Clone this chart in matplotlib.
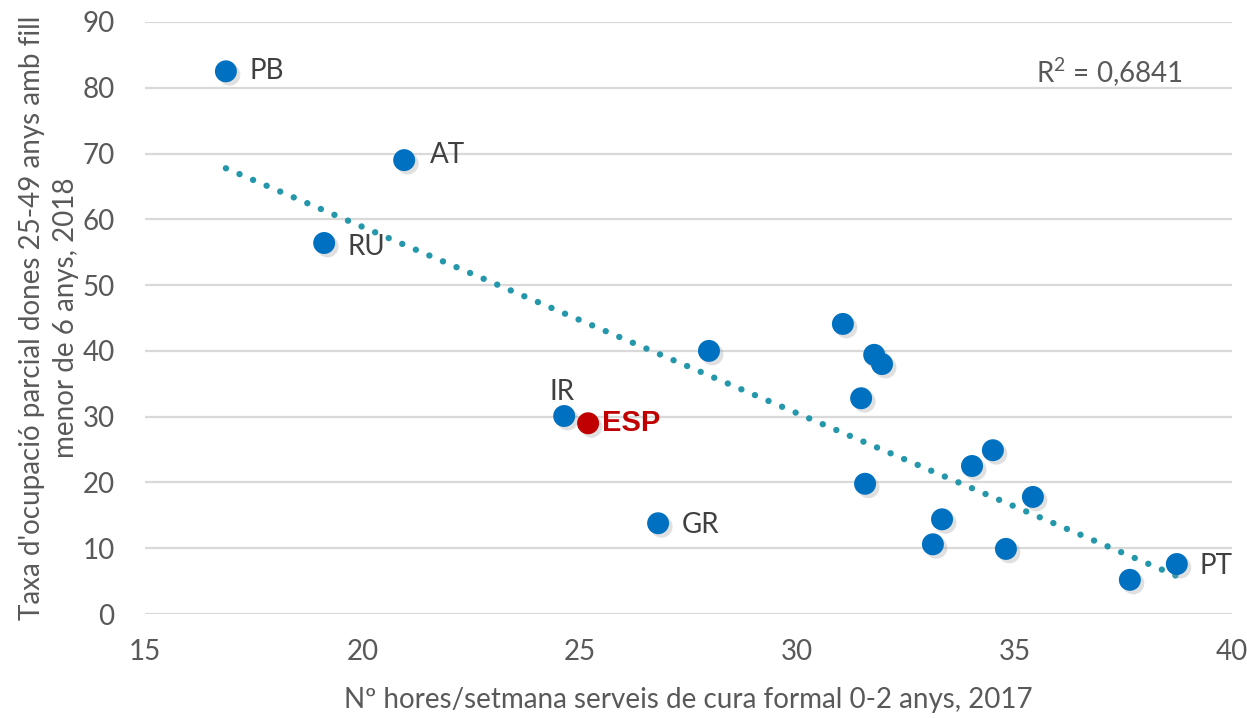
import numpy as np
import matplotlib
matplotlib.use("Agg")
import matplotlib.pyplot as plt
import matplotlib.patheffects as pe

BLUE = "#0070C0"; RED = "#C00000"; TEAL = "#2597AA"; GRID = "#D9D9D9"
TXT = "#404040"; TICK = "#595959"

# hours/week of formal childcare 0-2 (2017) vs part-time rate women 25-49 with child <6 (2018)
hours = [16.86, 20.96, 19.12, 24.64, 26.80, 27.97, 31.05, 31.77, 31.95, 31.47,
         31.56, 34.02, 34.50, 33.33, 33.12, 34.80, 35.42, 37.65, 38.73]
parttime = [82.5, 69.0, 56.4, 30.1, 13.8, 40.0, 44.1, 39.4, 38.0, 32.8,
            19.8, 22.5, 24.9, 14.4, 10.6, 9.9, 17.8, 5.2, 7.6]
labels = ["PB", "AT", "RU", "IR", "GR", "", "", "", "", "",
          "", "", "", "", "", "", "", "", "PT"]
esp_x, esp_y = 25.19, 29.0
r2_text = "R$^2$ = 0,6841"

# label offsets in pixels (dx, dy, ha)
offs = {"PB": (24, 0, "left"), "AT": (26, 5, "left"), "RU": (23, -4, "left"),
        "IR": (-2, 24, "center"), "GR": (24, -2, "left"), "PT": (23, -2, "left")}

plt.rcParams["font.family"] = ["Lato", "DejaVu Sans"]
plt.rcParams["mathtext.fontset"] = "custom"
plt.rcParams["mathtext.rm"] = "Lato"

FS = 20

fig = plt.figure(figsize=(12.47, 7.18), dpi=100)
ax = fig.add_axes([0.1163, 0.1448, 0.8717, 0.8246])

# trendline over all points
allx = np.array(hours + [esp_x]); ally = np.array(parttime + [esp_y])
m, b = np.polyfit(allx, ally, 1)
tx = np.array([allx.min(), allx.max()])
ax.plot(tx, m*tx + b, color=TEAL, lw=4.6, dashes=(0.01, 2.3),
        dash_capstyle="round", zorder=2)

shadow = [pe.SimplePatchShadow(offset=(2.5, -2.5), shadow_rgbFace="#999999", alpha=0.3),
          pe.Normal()]
ax.scatter(hours, parttime, s=250, color=BLUE, zorder=3, linewidths=0,
           path_effects=shadow)
ax.scatter([esp_x], [esp_y], s=250, color=RED, zorder=4, linewidths=0,
           path_effects=shadow)

for x, y, lab in zip(hours, parttime, labels):
    if not lab:
        continue
    dx, dy, ha = offs[lab]
    ax.annotate(lab, (x, y), xytext=(dx, dy), textcoords="offset pixels",
                ha=ha, va="center", fontsize=FS, color=TXT)
ax.annotate("ESP", (esp_x, esp_y), xytext=(14, 0), textcoords="offset pixels",
            ha="left", va="center", fontsize=FS + 1, color=RED, fontweight="bold",
            family=["Liberation Sans", "DejaVu Sans"])

ax.text(0.955, 0.9155, r2_text, transform=ax.transAxes, ha="right", va="center",
        fontsize=FS, color=TICK)

ax.set_xlim(15, 40)
ax.set_ylim(0, 90)
ax.set_xticks(range(15, 41, 5))
ax.set_yticks(range(0, 91, 10))
ax.grid(axis="y", color=GRID, lw=1.6)
ax.set_axisbelow(True)
for s in ax.spines.values():
    s.set_visible(False)
ax.tick_params(length=0, labelsize=FS, labelcolor=TICK)
ax.tick_params(axis="y", pad=22)
ax.tick_params(axis="x", pad=18)

ax.set_xlabel("Nº hores/setmana serveis de cura formal 0-2 anys, 2017",
              fontsize=FS, color=TICK, labelpad=16)
ax.set_ylabel("Taxa d'ocupació parcial dones 25-49 anys amb fill\nmenor de 6 anys, 2018",
              fontsize=FS, color=TICK, labelpad=2, linespacing=1.38)

fig.savefig("out.png", dpi=100)
